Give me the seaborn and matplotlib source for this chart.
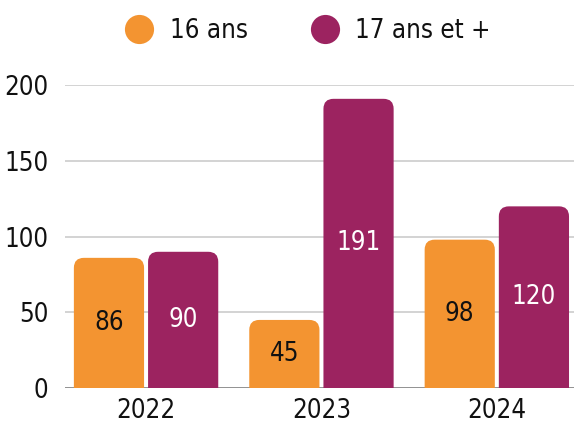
import numpy as np
import pandas as pd
import matplotlib
matplotlib.use("Agg")
import matplotlib.pyplot as plt
import seaborn as sns
from matplotlib import font_manager
from matplotlib.patches import FancyBboxPatch
from matplotlib.lines import Line2D

years = ["2022", "2023", "2024"]
groups = ["16 ans", "17 ans et +"]
vals_16 = [86, 45, 98]
vals_17 = [90, 191, 120]
colors = ["#F39431", "#9C2360"]
label_colors = ["#111111", "white"]

df = pd.DataFrame({
    "year": years * 2,
    "group": [groups[0]] * 3 + [groups[1]] * 3,
    "value": vals_16 + vals_17,
})

sns.set_theme(style="white")

# pick a narrow face if one is installed
narrow = [f for f in font_manager.fontManager.ttflist
          if ("Narrow" in f.name or "Condensed" in f.name
              or f.stretch in ("condensed", "semi-condensed"))
          and f.weight in (400, "normal", "regular")
          and f.style == "normal"]
if narrow:
    plt.rcParams["font.family"] = [narrow[0].name, "DejaVu Sans"]
    plt.rcParams["font.stretch"] = narrow[0].stretch
    fs = 18.5
else:
    plt.rcParams["font.family"] = ["DejaVu Sans"]
    fs = 16
plt.rcParams["text.color"] = "#111111"

fig = plt.figure(figsize=(5.74, 4.26), dpi=100)
ax = fig.add_axes([0.113, 0.089, 0.887, 0.711])

sns.barplot(data=df, x="year", y="value", hue="group", palette=colors,
            width=0.846, gap=0.054, legend=False, ax=ax)

ax.set_xlim(-0.463, 2.44)
ax.set_ylim(0, 200)
fig.canvas.draw()

# convert pixel radius to data units
px = 10
(x0, y0), (x1, y1) = ax.transData.inverted().transform([(0, 0), (px, px)])
rx, ry = x1 - x0, y1 - y0

for ci, cont in enumerate(ax.containers):
    for bar in cont:
        x, w, h = bar.get_x(), bar.get_width(), bar.get_height()
        bar.set_visible(False)
        rp = FancyBboxPatch((x, -ry), w, h + ry,
                            boxstyle=f"round,pad=0,rounding_size={rx}",
                            mutation_aspect=ry / rx,
                            facecolor=colors[ci], edgecolor="none", zorder=3)
        ax.add_patch(rp)
    ax.bar_label(cont, label_type="center", color=label_colors[ci],
                 fontsize=fs, zorder=5)

ax.set_yticks([0, 50, 100, 150, 200])
ax.yaxis.grid(True, color="#cccccc", linewidth=1.2, zorder=0)
ax.set_axisbelow(True)
ax.axhline(0, color="#888888", linewidth=1.2, zorder=2)
sns.despine(ax=ax, left=True, bottom=True)
ax.tick_params(axis="both", length=0, labelsize=fs, colors="#111111")
ax.tick_params(axis="y", pad=12)
ax.tick_params(axis="x", pad=7)
ax.set_xlabel("")
ax.set_ylabel("")

handles = [Line2D([], [], marker="o", linestyle="none", markersize=21,
                  markerfacecolor=c, markeredgecolor="none") for c in colors]
fig.legend(handles, groups, loc="upper center", bbox_to_anchor=(0.535, 1.013),
           ncol=2, frameon=False, fontsize=fs, handlelength=1.2,
           handletextpad=0.6, columnspacing=2.4)

fig.savefig("out.png", dpi=100)
